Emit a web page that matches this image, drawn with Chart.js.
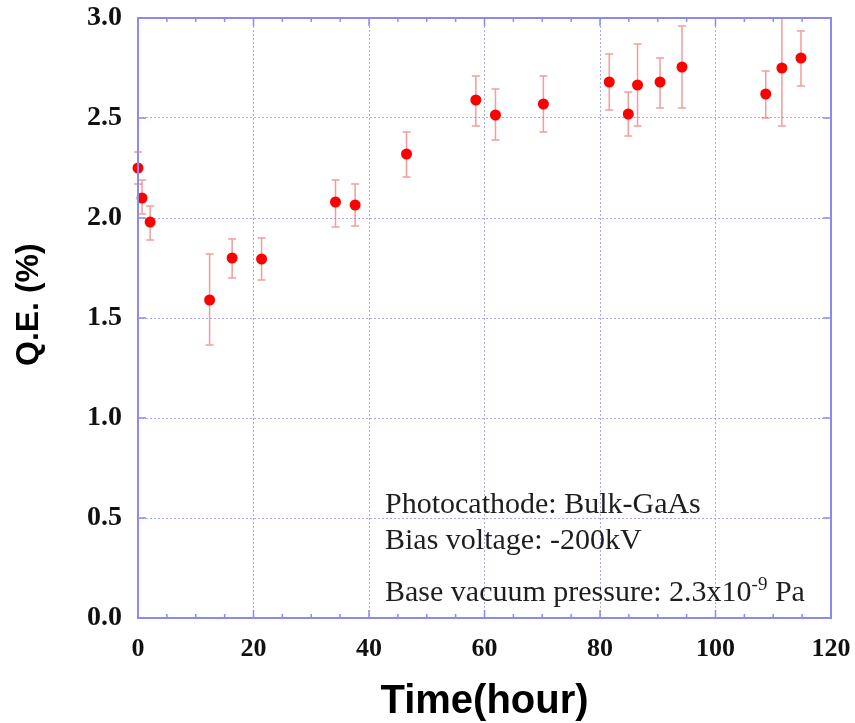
<!DOCTYPE html>
<html>
<head>
<meta charset="utf-8">
<script src="https://cdn.jsdelivr.net/npm/chart.js@4.4.1/dist/chart.umd.min.js"></script>
<style>
  html, body { margin: 0; padding: 0; background: #fff; }
  #wrap { width: 855px; height: 723px; position: relative; }
</style>
</head>
<body>
<div id="wrap"><canvas id="c" width="855" height="723"></canvas></div>
<script>
// ---- data ----
const timeHours = [0, 0.7, 2.1, 12.4, 16.3, 21.4, 34.2, 37.6, 46.5, 58.5, 61.9, 70.2, 81.6, 84.9, 86.5, 90.4, 94.2, 108.7, 111.5, 114.8];
const qePercent = [2.25, 2.10, 1.98, 1.59, 1.80, 1.795, 2.08, 2.065, 2.32, 2.59, 2.515, 2.57, 2.68, 2.52, 2.665, 2.68, 2.755, 2.62, 2.75, 2.80];
const qeUpper   = [2.33, 2.19, 2.06, 1.82, 1.895, 1.90, 2.19, 2.17, 2.43, 2.71, 2.645, 2.71, 2.82, 2.63, 2.87, 2.80, 2.96, 2.735, 3.04, 2.935];
const qeLower   = [2.17, 2.02, 1.89, 1.365, 1.70, 1.69, 1.955, 1.96, 2.205, 2.46, 2.39, 2.43, 2.54, 2.41, 2.46, 2.55, 2.55, 2.50, 2.46, 2.66];
const xTicks = [0, 20, 40, 60, 80, 100, 120];
const yTicks = [0.0, 0.5, 1.0, 1.5, 2.0, 2.5, 3.0];
const annotationLines = ["Photocathode: Bulk-GaAs", "Bias voltage: -200kV"];
const pressureText = ["Base vacuum pressure: 2.3x10", "-9", " Pa"];

const points = timeHours.map((t, i) => ({ x: t, y: qePercent[i] }));

const FRAME = '#8a8af2';
const GRID = '#a8a8f8';

const errorBars = {
  id: 'errorBars',
  beforeDatasetsDraw(chart) {
    const { ctx, scales: { x, y } } = chart;
    const area = chart.chartArea;
    ctx.save();
    ctx.beginPath();
    ctx.rect(area.left - 10, area.top, area.right - area.left + 20, area.bottom - area.top);
    ctx.clip();
    ctx.strokeStyle = 'rgba(236,90,90,0.6)';
    ctx.lineWidth = 1.5;
    timeHours.forEach((t, i) => {
      const px = x.getPixelForValue(t);
      const yt = y.getPixelForValue(qeUpper[i]);
      const yb = y.getPixelForValue(qeLower[i]);
      ctx.beginPath();
      ctx.moveTo(px, yt); ctx.lineTo(px, yb);
      ctx.moveTo(px - 4, yt); ctx.lineTo(px + 4, yt);
      ctx.moveTo(px - 4, yb); ctx.lineTo(px + 4, yb);
      ctx.stroke();
    });
    ctx.restore();
  }
};

const frameAndTicks = {
  id: 'frameAndTicks',
  afterDraw(chart) {
    const { ctx, scales: { x, y } } = chart;
    const a = chart.chartArea;
    ctx.save();
    ctx.strokeStyle = FRAME;
    ctx.lineWidth = 1.5;
    for (let v = 0; v <= 120; v += 5) {
      const px = x.getPixelForValue(v);
      const len = (v % 20 === 0) ? 8 : 4;
      ctx.beginPath();
      ctx.moveTo(px, a.bottom); ctx.lineTo(px, a.bottom - len);
      ctx.moveTo(px, a.top); ctx.lineTo(px, a.top + len);
      ctx.stroke();
    }
    yTicks.forEach(v => {
      const py = y.getPixelForValue(v);
      ctx.beginPath();
      ctx.moveTo(a.left, py); ctx.lineTo(a.left + 8, py);
      ctx.moveTo(a.right, py); ctx.lineTo(a.right - 8, py);
      ctx.stroke();
    });
    ctx.lineWidth = 2;
    ctx.strokeRect(a.left, a.top, a.right - a.left, a.bottom - a.top);
    ctx.restore();

    // annotation text
    ctx.save();
    ctx.fillStyle = '#1e1e1e';
    ctx.textBaseline = 'alphabetic';
    ctx.textAlign = 'left';
    ctx.font = '30px "Liberation Serif", "Times New Roman", serif';
    const x0 = 385;
    ctx.fillText(annotationLines[0], x0, 513);
    ctx.fillText(annotationLines[1], x0, 549);
    ctx.fillText(pressureText[0], x0, 601);
    let w = ctx.measureText(pressureText[0]).width;
    ctx.font = '19px "Liberation Serif", "Times New Roman", serif';
    ctx.fillText(pressureText[1], x0 + w, 590);
    w += ctx.measureText(pressureText[1]).width;
    ctx.font = '30px "Liberation Serif", "Times New Roman", serif';
    ctx.fillText(pressureText[2], x0 + w, 601);
    ctx.restore();
  }
};

new Chart(document.getElementById('c'), {
  type: 'scatter',
  data: {
    datasets: [{
      data: points,
      backgroundColor: '#ff0000',
      borderWidth: 0,
      pointRadius: 5.5,
      pointHoverRadius: 5.5,
      clip: false
    }]
  },
  options: {
    responsive: false,
    animation: false,
    devicePixelRatio: 1,
    layout: { padding: { left: 0, right: 24, top: 18, bottom: 0 } },
    plugins: { legend: { display: false }, tooltip: { enabled: false } },
    scales: {
      x: {
        type: 'linear',
        min: 0, max: 120,
        afterBuildTicks(s) { s.ticks = xTicks.map(v => ({ value: v })); },
        afterFit(s) { s.height = 105; s.paddingLeft = 0; s.paddingRight = 0; },
        grid: { color: GRID, lineWidth: 1, drawTicks: false },
        border: { display: false, dash: [2, 2] },
        ticks: {
          padding: 16,
          color: '#111',
          font: { family: '"Liberation Serif", "Times New Roman", serif', size: 26, weight: 'bold' },
          callback: v => String(v)
        },
        title: {
          display: true,
          text: 'Time(hour)',
          color: '#000',
          font: { family: '"Liberation Sans", Arial, sans-serif', size: 40, weight: 'bold', lineHeight: 1 },
          padding: { top: 0, bottom: 1 }
        }
      },
      y: {
        type: 'linear',
        min: 0, max: 3,
        afterBuildTicks(s) { s.ticks = yTicks.map(v => ({ value: v })); },
        afterFit(s) { s.width = 138; s.paddingTop = 0; s.paddingBottom = 0; },
        grid: { color: GRID, lineWidth: 1, drawTicks: false },
        border: { display: false, dash: [2, 2] },
        ticks: {
          padding: 16,
          color: '#111',
          font: { family: '"Liberation Serif", "Times New Roman", serif', size: 28, weight: 'bold' },
          callback: v => Number(v).toFixed(1)
        },
        title: {
          display: true,
          text: '   Q.E. (%)',
          color: '#000',
          font: { family: '"Liberation Sans", Arial, sans-serif', size: 32, weight: 'bold', lineHeight: 1 },
          padding: { top: 13, bottom: 0 }
        }
      }
    }
  },
  plugins: [errorBars, frameAndTicks]
});
</script>
</body>
</html>
